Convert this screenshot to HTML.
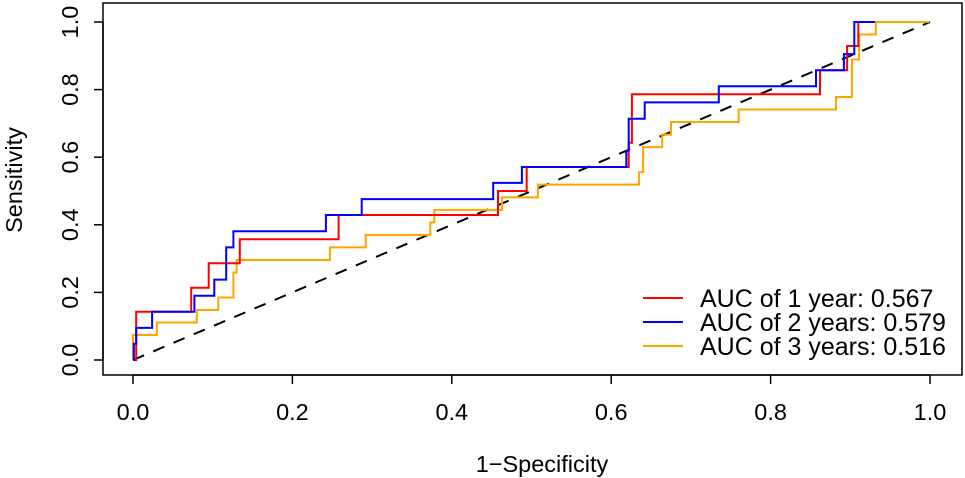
<!DOCTYPE html>
<html><head><meta charset="utf-8"><style>
body{margin:0;background:#fff;}
svg{display:block;font-family:"Liberation Sans",Arial,sans-serif;}
</style></head><body>
<svg id="chart" width="965" height="478" viewBox="0 0 965 478" xmlns="http://www.w3.org/2000/svg">
<rect x="0" y="0" width="965" height="478" fill="#fff"/>
<rect x="103" y="3" width="859" height="372" fill="none" stroke="#000" stroke-width="1.5"/>
<g id="axes"></g>
<g id="series"></g>
<text x="542" y="472" font-size="23.5" text-anchor="middle">1−Specificity</text>
<text transform="translate(22,180) rotate(-90)" font-size="23.5" text-anchor="middle">Sensitivity</text>
<g>
<g><line x1="643" y1="298" x2="683" y2="298" stroke="#ff0000" stroke-width="2"/><text x="700" y="307" font-size="25">AUC of 1 year: 0.567</text></g>
<g><line x1="643" y1="322" x2="683" y2="322" stroke="#0000ff" stroke-width="2"/><text x="700" y="331" font-size="25">AUC of 2 years: 0.579</text></g>
<g><line x1="643" y1="346" x2="683" y2="346" stroke="#ffa500" stroke-width="2"/><text x="700" y="355" font-size="25">AUC of 3 years: 0.516</text></g>
</g>
</svg>
<script>
const xTicks=[0,0.2,0.4,0.6,0.8,1.0];
const xTickLabels=["0.0","0.2","0.4","0.6","0.8","1.0"];
const yTicks=[0,0.2,0.4,0.6,0.8,1.0];
const yTickLabels=["0.0","0.2","0.4","0.6","0.8","1.0"];
const fpr1=[0,0.004,0.004,0.073,0.073,0.095,0.095,0.134,0.134,0.258,0.258,0.458,0.458,0.494,0.494,0.622,0.622,0.626,0.626,0.862,0.862,0.896,0.896,0.91,0.91,0.931];
const tpr1=[0,0,0.143,0.143,0.214,0.214,0.286,0.286,0.357,0.357,0.429,0.429,0.5,0.5,0.571,0.571,0.643,0.643,0.786,0.786,0.857,0.857,0.929,0.929,1,1];
const fpr2=[0,0.001,0.001,0.004,0.004,0.024,0.024,0.077,0.077,0.102,0.102,0.117,0.117,0.126,0.126,0.242,0.242,0.287,0.287,0.452,0.452,0.488,0.488,0.619,0.619,0.622,0.622,0.642,0.642,0.735,0.735,0.857,0.857,0.892,0.892,0.905,0.905,0.931];
const tpr2=[0,0,0.048,0.048,0.095,0.095,0.143,0.143,0.19,0.19,0.238,0.238,0.333,0.333,0.381,0.381,0.429,0.429,0.476,0.476,0.524,0.524,0.571,0.571,0.619,0.619,0.714,0.714,0.762,0.762,0.81,0.81,0.857,0.857,0.905,0.905,1,1];
const fpr3=[0,0,0.03,0.03,0.08,0.08,0.107,0.107,0.126,0.126,0.13,0.13,0.247,0.247,0.292,0.292,0.373,0.373,0.378,0.378,0.463,0.463,0.508,0.508,0.635,0.635,0.64,0.64,0.664,0.664,0.675,0.675,0.76,0.76,0.882,0.882,0.902,0.902,0.911,0.911,0.932,0.932,0.999];
const tpr3=[0,0.074,0.074,0.111,0.111,0.148,0.148,0.185,0.185,0.259,0.259,0.296,0.296,0.333,0.333,0.37,0.37,0.407,0.407,0.444,0.444,0.481,0.481,0.519,0.519,0.556,0.556,0.63,0.63,0.667,0.667,0.704,0.704,0.741,0.741,0.778,0.778,0.889,0.889,0.963,0.963,1,1];
const NS="http://www.w3.org/2000/svg";
function sx(v){return 133+v*797;}
function sy(v){return 360-v*338;}
const axes=document.getElementById('axes');
const series=document.getElementById('series');
function mk(tag,attrs,parent){const e=document.createElementNS(NS,tag);for(const k in attrs)e.setAttribute(k,attrs[k]);parent.appendChild(e);return e;}
const xl=mk('line',{x1:sx(xTicks[0]),x2:sx(xTicks[xTicks.length-1]),y1:375,y2:375,stroke:'#000','stroke-width':1.5},axes);


xTicks.forEach((t,i)=>{
 const tk=mk('line',{x1:sx(t),x2:sx(t),y1:375,y2:384,stroke:'#000','stroke-width':1.5},axes);
 
 
 const tx=mk('text',{x:sx(t),y:420,'font-size':23.5,'text-anchor':'middle'},axes);
 tx.textContent=xTickLabels[i];
 
 
});
const yl=mk('line',{x1:103,x2:103,y1:sy(yTicks[0]),y2:sy(yTicks[yTicks.length-1]),stroke:'#000','stroke-width':1.5},axes);


yTicks.forEach((t,i)=>{
 const tk=mk('line',{x1:94,x2:103,y1:sy(t),y2:sy(t),stroke:'#000','stroke-width':1.5},axes);
 
 
 const tx=mk('text',{transform:'translate(78,'+sy(t)+') rotate(-90)','font-size':23.5,'text-anchor':'middle'},axes);
 tx.textContent=yTickLabels[i];
 
 
});
const diag=mk('line',{x1:sx(0),y1:sy(0),x2:sx(1),y2:sy(1),stroke:'#000','stroke-width':2,'stroke-dasharray':'12,10'},series);


function curve(xs,ys,color,name){
 const pts=xs.map((x,i)=>sx(x).toFixed(1)+','+sy(ys[i]).toFixed(1)).join(' ');
 const p=mk('polyline',{points:pts,fill:'none',stroke:color,'stroke-width':2},series);
 
 
}
curve(fpr3,tpr3,'#ffa500','roc-curve-3years');
curve(fpr1,tpr1,'#ff0000','roc-curve-1year');
curve(fpr2,tpr2,'#0000ff','roc-curve-2years');
</script>
</body></html>
